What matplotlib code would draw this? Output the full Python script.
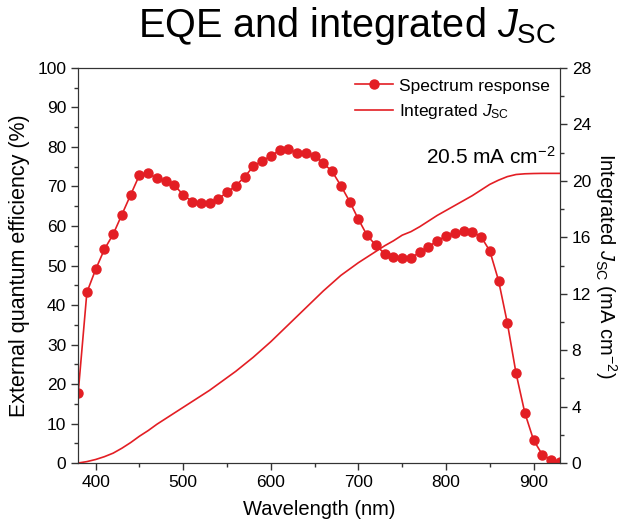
import matplotlib
matplotlib.use("Agg")
import matplotlib.pyplot as plt
from matplotlib.ticker import MultipleLocator

plt.rcParams['font.family'] = ['Liberation Sans', 'DejaVu Sans']
plt.rcParams['mathtext.fontset'] = 'custom'
plt.rcParams['mathtext.it'] = 'Liberation Sans:italic'
plt.rcParams['mathtext.rm'] = 'Liberation Sans'

# wavelength grid (nm)
wavelength = list(range(380, 931, 10))

# EQE (%)
eqe = [17.6, 43.2, 49.0, 54.1, 57.9, 62.9, 67.9, 72.9, 73.3, 72.1,
       71.4, 70.3, 67.9, 66.2, 65.9, 65.9, 66.9, 68.5, 70.2, 72.4,
       75.1, 76.5, 77.7, 79.2, 79.5, 78.5, 78.5, 77.8, 75.9, 73.8,
       70.2, 66.2, 61.7, 57.6, 55.1, 53.0, 52.2, 51.8, 52.0, 53.3,
       54.7, 56.3, 57.4, 58.3, 58.7, 58.5, 57.3, 53.7, 46.2, 35.5,
       22.7, 12.7, 5.8, 2.1, 0.8, 0.3]

# integrated Jsc (mA cm-2)
jsc = [0.0, 0.1, 0.25, 0.45, 0.7, 1.05, 1.45, 1.9, 2.3, 2.75,
       3.15, 3.55, 3.95, 4.35, 4.75, 5.15, 5.6, 6.05, 6.5, 7.0,
       7.5, 8.05, 8.6, 9.2, 9.8, 10.4, 11.0, 11.6, 12.2, 12.75,
       13.3, 13.75, 14.2, 14.6, 15.0, 15.4, 15.75, 16.15, 16.4, 16.75,
       17.15, 17.55, 17.9, 18.25, 18.6, 18.95, 19.35, 19.75, 20.05, 20.3,
       20.45, 20.5, 20.52, 20.53, 20.53, 20.53]

red = '#E31E24'
spine_col = '#333333'

fig = plt.figure(figsize=(6.2, 5.27), dpi=100)
ax = fig.add_axes([0.126, 0.1214, 0.777, 0.7496])
ax2 = ax.twinx()

l1, = ax.plot(wavelength, eqe, '-o', color=red, lw=1.2, ms=6.5,
              label='Spectrum response')
l2, = ax2.plot(wavelength, jsc, '-', color=red, lw=1.2,
               label='Integrated $J_{\\mathrm{SC}}$')

ax.set_xlim(380, 930)
ax.set_ylim(0, 100)
ax2.set_ylim(0, 28)

ax.xaxis.set_major_locator(MultipleLocator(100))
ax.xaxis.set_minor_locator(MultipleLocator(50))
ax.yaxis.set_major_locator(MultipleLocator(10))
ax.yaxis.set_minor_locator(MultipleLocator(5))
ax2.yaxis.set_major_locator(MultipleLocator(4))
ax2.yaxis.set_minor_locator(MultipleLocator(2))

for a in (ax, ax2):
    a.tick_params(which='major', direction='out', length=5, width=1,
                  color=spine_col, labelsize=12.5)
    a.tick_params(which='minor', direction='out', length=3, width=1,
                  color=spine_col)
    for s in a.spines.values():
        s.set_color(spine_col)
ax.tick_params(top=False, right=False, which='both')

ax.set_xlabel('Wavelength (nm)', fontsize=14.5, labelpad=7)
ax.set_ylabel('External quantum efficiency (%)', fontsize=15.5, labelpad=5)
ax2.set_ylabel('Integrated $J_{\\mathrm{SC}}$ (mA cm$^{-2}$)', fontsize=14.5,
               rotation=-90, labelpad=20)

fig.suptitle('EQE and integrated $J_{\\mathrm{SC}}$', fontsize=28.5,
             x=0.56, y=0.99)

ax2.text(925, 20.9, '20.5 mA cm$^{-2}$', fontsize=15, ha='right', va='bottom')

ax2.legend([l1, l2], ['Spectrum response', 'Integrated $J_{\\mathrm{SC}}$'],
           loc='upper right', frameon=False, fontsize=12.5, handlelength=2.2,
           borderaxespad=0.2, labelspacing=0.5, handletextpad=0.3)

fig.savefig('out.png', dpi=100)
